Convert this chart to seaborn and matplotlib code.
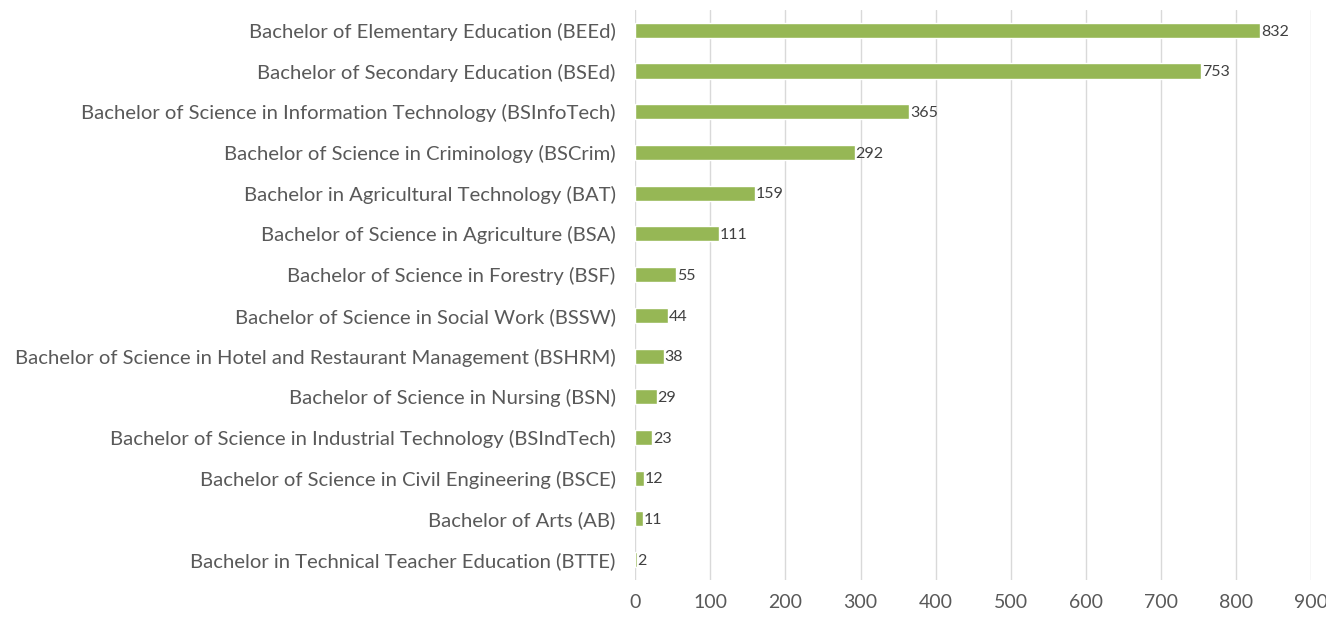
import matplotlib
matplotlib.use("Agg")
import matplotlib.pyplot as plt
import seaborn as sns
import pandas as pd

programs = [
    "Bachelor of Elementary Education (BEEd)",
    "Bachelor of Secondary Education (BSEd)",
    "Bachelor of Science in Information Technology (BSInfoTech)",
    "Bachelor of Science in Criminology (BSCrim)",
    "Bachelor in Agricultural Technology (BAT)",
    "Bachelor of Science in Agriculture (BSA)",
    "Bachelor of Science in Forestry (BSF)",
    "Bachelor of Science in Social Work (BSSW)",
    "Bachelor of Science in Hotel and Restaurant Management (BSHRM)",
    "Bachelor of Science in Nursing (BSN)",
    "Bachelor of Science in Industrial Technology (BSIndTech)",
    "Bachelor of Science in Civil Engineering (BSCE)",
    "Bachelor of Arts (AB)",
    "Bachelor in Technical Teacher Education (BTTE)",
]
counts = [832, 753, 365, 292, 159, 111, 55, 44, 38, 29, 23, 12, 11, 2]
x_ticks = [0, 100, 200, 300, 400, 500, 600, 700, 800, 900]

bar_color = "#96B755"
text_color = "#595959"
grid_color = "#D9D9D9"

sns.set_style("white")
plt.rcParams["font.family"] = ["Lato", "DejaVu Sans"]

df = pd.DataFrame({"program": programs, "count": counts})

fig = plt.figure(figsize=(13.26, 6.21), dpi=100)
ax = fig.add_axes([0.479, 0.066, 0.510, 0.918])

sns.barplot(data=df, x="count", y="program", color=bar_color, width=0.37,
            saturation=1, ax=ax)

# value labels at bar ends
for i, v in enumerate(counts):
    ax.text(v + 1, i + 0.03, str(v), va="center", ha="left", fontsize=11.5,
            color="#404040")

ax.set_xlim(0, 900)
ax.set_ylim(len(programs) - 0.5, -0.5)
ax.set_xticks(x_ticks)
ax.set_xticklabels([str(t) for t in x_ticks], fontsize=14, color=text_color)
ax.tick_params(axis="y", labelsize=14.6, labelcolor=text_color, length=0, pad=14)
ax.tick_params(axis="x", length=0, pad=10)
ax.set_xlabel("")
ax.set_ylabel("")
ax.xaxis.grid(True, color=grid_color, linewidth=1)
ax.set_axisbelow(True)
for s in ax.spines.values():
    s.set_visible(False)

fig.savefig("out.png", dpi=100)
